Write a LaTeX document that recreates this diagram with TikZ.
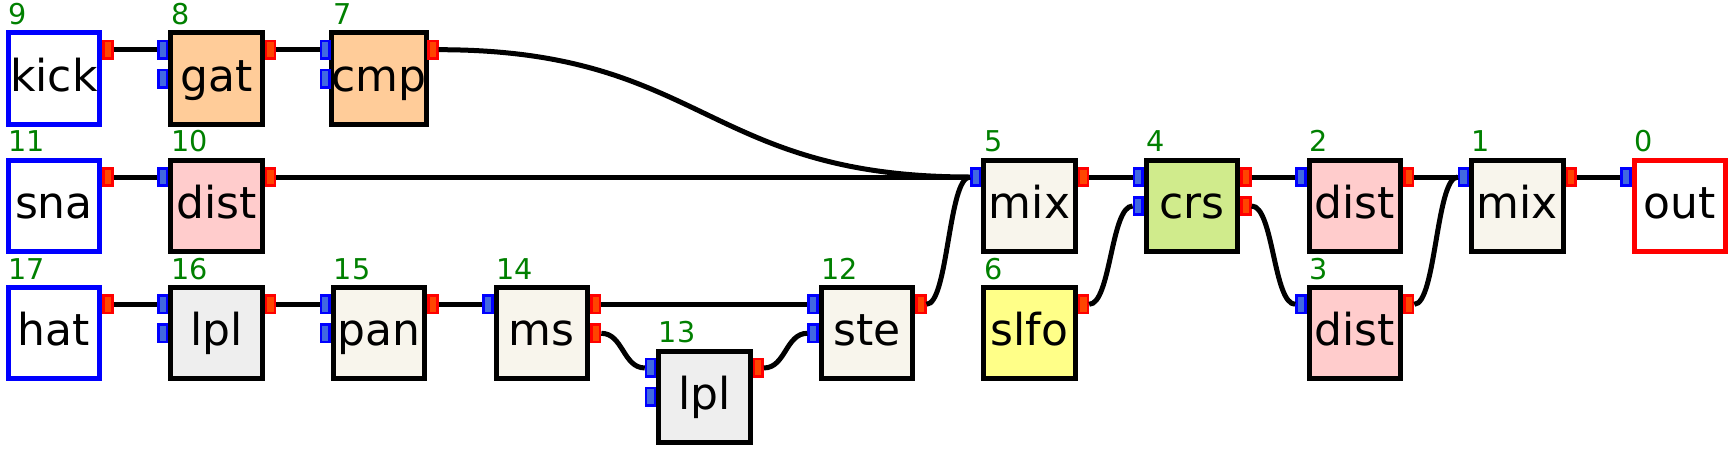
\documentclass[tikz,border=0pt]{standalone}
\usepackage{fontspec}
\setmainfont{DejaVu Sans}
\usetikzlibrary{calc}
\definecolor{peach}{HTML}{FFCC99}
\definecolor{pinkbox}{HTML}{FFCCCC}
\definecolor{graybox}{HTML}{EEEEEE}
\definecolor{creambox}{HTML}{F8F5EC}
\definecolor{greenbox}{HTML}{D0EB8C}
\definecolor{yellowbox}{HTML}{FFFF88}
\definecolor{portred}{HTML}{FF4500}
\definecolor{portblue}{HTML}{4169E1}
\definecolor{lblgreen}{HTML}{008000}
\tikzset{
  blk/.style={rectangle, line width=3.75pt, minimum width=68.6pt, minimum height=68.6pt,
    inner sep=0pt, text height=24pt, text depth=4.9pt,
    font=\fontsize{33}{35}\selectfont},
  lbl/.style={anchor=base west, inner sep=0pt, text=lblgreen, font=\fontsize{21.5}{23}\selectfont},
  outport/.style={rectangle, draw=red, fill=portred, line width=1.9pt, minimum width=6.6pt, minimum height=13.1pt, inner sep=0pt},
  inport/.style={rectangle, draw=blue, fill=portblue, line width=1.9pt, minimum width=6.6pt, minimum height=13.1pt, inner sep=0pt},
  wire/.style={line width=3.75pt}
}
\newcommand\mkblock[9]{%
  \pgfmathsetmacro\bkx{5.7+162.6*#2}%
  \pgfmathsetmacro\bky{30.4+127.3*#3}%
  \node[blk, fill=#4, draw=#5] (#1) at (\bkx+48.25, \bky+48.25) {#6};
  \node[lbl] (#1-n) at (\bkx+2.6, \bky-6) {#7};
  \ifnum#8>0 \node[inport] (#1-i1) at (\bkx-5.65, \bky+19.3) {};\fi
  \ifnum#8>1 \node[inport] (#1-i2) at (\bkx-5.65, \bky+48.3) {};\fi
  \ifnum#9>0 \node[outport] (#1-o1) at (\bkx+96.5+5.65, \bky+19.3) {};\fi
  \ifnum#9>1 \node[outport] (#1-o2) at (\bkx+96.5+5.65, \bky+48.3) {};\fi
}
\newcommand\curvewire[2]{%
  \draw[wire] let \p1=(#1), \p2=(#2) in (\p1) .. controls ({(\x1+\x2)/2},\y1) and ({(\x1+\x2)/2},\y2) .. (\p2);
}
\begin{document}
\begin{tikzpicture}[x=0.75pt, y=-0.75pt]
\useasboundingbox (0,0) rectangle (1735,450);
\mkblock{kick}{0}{0}{white}{blue}{kick}{9}{0}{1}
\mkblock{gat}{1}{0}{peach}{black}{gat}{8}{2}{1}
\mkblock{cmp}{2}{0}{peach}{black}{cmp}{7}{2}{1}
\mkblock{sna}{0}{1}{white}{blue}{sna}{11}{0}{1}
\mkblock{dista}{1}{1}{pinkbox}{black}{dist}{10}{1}{1}
\mkblock{hat}{0}{2}{white}{blue}{hat}{17}{0}{1}
\mkblock{lpla}{1}{2}{graybox}{black}{lpl}{16}{2}{1}
\mkblock{pan}{2}{2}{creambox}{black}{pan}{15}{2}{1}
\mkblock{ms}{3}{2}{creambox}{black}{ms}{14}{1}{2}
\mkblock{lplb}{4}{2.5}{graybox}{black}{lpl}{13}{2}{1}
\mkblock{ste}{5}{2}{creambox}{black}{ste}{12}{2}{1}
\mkblock{mixa}{6}{1}{creambox}{black}{mix}{5}{1}{1}
\mkblock{slfo}{6}{2}{yellowbox}{black}{slfo}{6}{0}{1}
\mkblock{crs}{7}{1}{greenbox}{black}{crs}{4}{2}{2}
\mkblock{distb}{8}{1}{pinkbox}{black}{dist}{2}{1}{1}
\mkblock{distc}{8}{2}{pinkbox}{black}{dist}{3}{1}{1}
\mkblock{mixb}{9}{1}{creambox}{black}{mix}{1}{1}{1}
\mkblock{out}{10}{1}{white}{red}{out}{0}{1}{0}
% connectors
\draw[wire] (kick-o1.east) -- (gat-i1.west);
\draw[wire] (gat-o1.east) -- (cmp-i1.west);
\curvewire{cmp-o1.east}{mixa-i1.west}
\draw[wire] (sna-o1.east) -- (dista-i1.west);
\draw[wire] (dista-o1.east) -- (mixa-i1.west);
\draw[wire] (hat-o1.east) -- (lpla-i1.west);
\draw[wire] (lpla-o1.east) -- (pan-i1.west);
\draw[wire] (pan-o1.east) -- (ms-i1.west);
\draw[wire] (ms-o1.east) -- (ste-i1.west);
\curvewire{ms-o2.east}{lplb-i1.west}
\curvewire{lplb-o1.east}{ste-i2.west}
\curvewire{ste-o1.east}{mixa-i1.west}
\draw[wire] (mixa-o1.east) -- (crs-i1.west);
\curvewire{slfo-o1.east}{crs-i2.west}
\draw[wire] (crs-o1.east) -- (distb-i1.west);
\curvewire{crs-o2.east}{distc-i1.west}
\draw[wire] (distb-o1.east) -- (mixb-i1.west);
\curvewire{distc-o1.east}{mixb-i1.west}
\draw[wire] (mixb-o1.east) -- (out-i1.west);
\end{tikzpicture}
\end{document}
